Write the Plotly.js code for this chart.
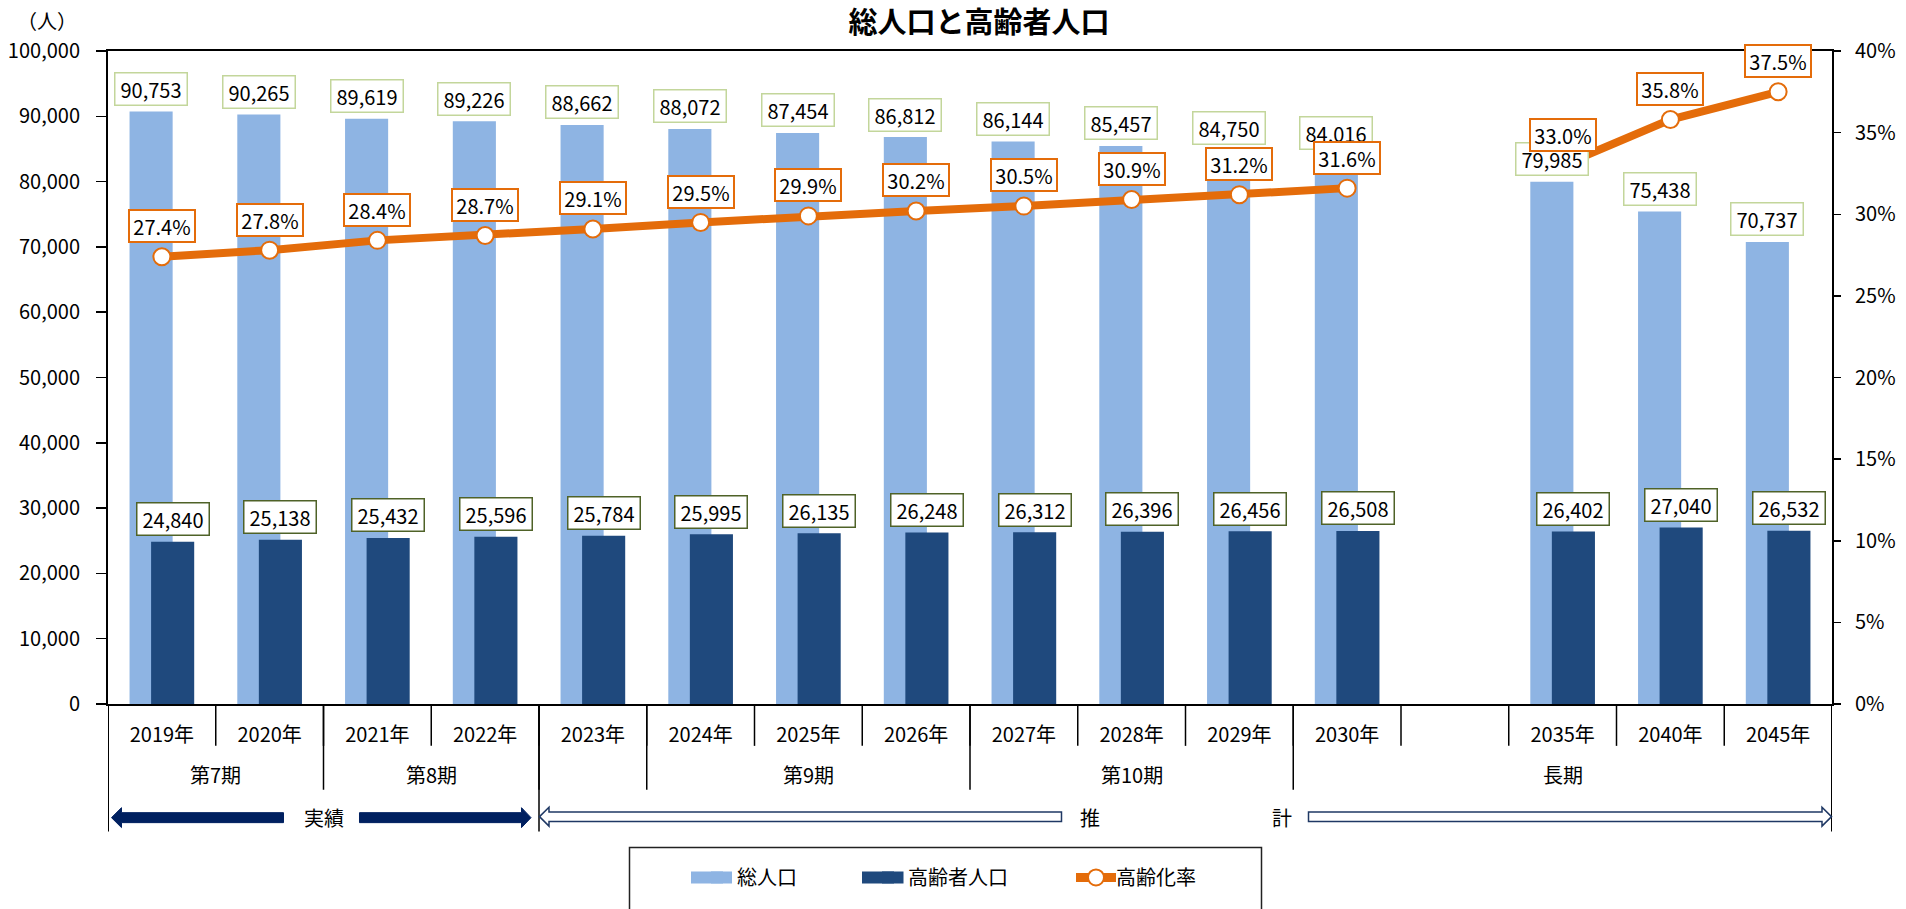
<!DOCTYPE html>
<html>
<head>
<meta charset="utf-8">
<script src="https://cdn.plot.ly/plotly-3.0.1.min.js"></script>
<style>html,body{margin:0;padding:0;background:#fff;}#chart{width:1906px;height:909px;}</style>
</head>
<body>
<div id="chart"></div>
<script>
// ---- data ----
const categories = ['2019年','2020年','2021年','2022年','2023年','2024年','2025年','2026年','2027年','2028年','2029年','2030年',' ','2035年','2040年','2045年'];
const totalPop   = [90753, 90265, 89619, 89226, 88662, 88072, 87454, 86812, 86144, 85457, 84750, 84016, null, 79985, 75438, 70737];
const elderlyPop = [24840, 25138, 25432, 25596, 25784, 25995, 26135, 26248, 26312, 26396, 26456, 26508, null, 26402, 27040, 26532];
const agingRate  = [27.4, 27.8, 28.4, 28.7, 29.1, 29.5, 29.9, 30.2, 30.5, 30.9, 31.2, 31.6, null, 33.0, 35.8, 37.5];
const periodLabels = ['第7期','第8期','','第9期','第10期','長期'];
const periodFirst  = [0, 2, 4, 5, 8, 11];
const periodLast   = [1, 3, 4, 7, 10, 15];
const seriesNames = ['総人口','高齢者人口','高齢化率'];
const titleText = '総人口と高齢者人口';
const unitText = '（人）';
const actualText = '実績';
const estimateTexts = ['推','計'];

// ---- styles ----
const FONT = '"Noto Sans CJK JP", "Noto Sans", sans-serif';
const C_LIGHT = '#8EB4E3', C_DARK = '#1F497D', C_ORANGE = '#E46C0A';
const C_NAVY = '#002060', C_HOLLOW = '#1F3864';
const W = 1906, H = 909;
const PL = 108, PR = 1832, PT = 51, PB = 706;
const px = v => (v - PL) / (PR - PL);
const py = v => (PB - v) / (PB - PT);
const nCat = categories.length;

const fmt = n => n.toLocaleString('en-US');
const baseFont = {family: FONT, size: 20, color: '#000'};

const traces = [
  {type: 'bar', name: seriesNames[0], x: categories, y: totalPop, marker: {color: C_LIGHT},
   width: 0.4, offset: -0.3, legend: 'legend', hoverinfo: 'skip'},
  {type: 'bar', name: seriesNames[1], x: categories, y: elderlyPop, marker: {color: C_DARK},
   width: 0.4, offset: -0.1, legend: 'legend2', hoverinfo: 'skip'},
  {type: 'scatter', mode: 'lines+markers', name: seriesNames[2], x: categories, y: agingRate, yaxis: 'y2',
   connectgaps: false, line: {color: C_ORANGE, width: 8},
   marker: {size: 17, color: '#fff', line: {color: C_ORANGE, width: 2}}, legend: 'legend3', hoverinfo: 'skip'}
];

const annotations = [];
// unit label
annotations.push({xref: 'paper', yref: 'paper', x: px(47), y: py(20), xanchor: 'center', yanchor: 'middle',
  text: unitText, showarrow: false, font: {family: FONT, size: 20, color: '#000'}});
// total labels
totalPop.forEach((v, i) => { if (v == null) return;
  annotations.push({xref: 'x', yref: 'y', x: i - 0.1, y: v, text: fmt(v), showarrow: false,
    xanchor: 'center', yanchor: 'middle', yshift: 22.6, bgcolor: '#fff', bordercolor: '#C3D69B',
    borderwidth: 1.5, borderpad: 1, width: 69, height: 29, font: baseFont});
});
// elderly labels
elderlyPop.forEach((v, i) => { if (v == null) return;
  annotations.push({xref: 'x', yref: 'y', x: i + 0.1, y: v, text: fmt(v), showarrow: false,
    xanchor: 'center', yanchor: 'middle', yshift: 22.6, bgcolor: '#fff', bordercolor: '#4F6228',
    borderwidth: 1.5, borderpad: 1, width: 69, height: 29, font: baseFont});
});
// rate labels
agingRate.forEach((v, i) => { if (v == null) return;
  annotations.push({xref: 'x', yref: 'y2', x: i, y: v, text: v.toFixed(1) + '%', showarrow: false,
    xanchor: 'center', yanchor: 'middle', yshift: 30.6, bgcolor: '#fff', bordercolor: C_ORANGE,
    borderwidth: 2, borderpad: 1, width: 62, height: 28, font: baseFont});
});
// period labels
periodLabels.forEach((t, k) => { if (!t) return;
  annotations.push({xref: 'x', yref: 'paper', x: (periodFirst[k] + periodLast[k]) / 2, y: py(777),
    text: t, showarrow: false, xanchor: 'center', yanchor: 'middle', font: baseFont});
});
// phase labels
annotations.push({xref: 'x', yref: 'paper', x: (periodFirst[0] + periodLast[1]) / 2, y: py(820), text: actualText,
  showarrow: false, xanchor: 'center', yanchor: 'middle', font: baseFont});
annotations.push({xref: 'paper', yref: 'paper', x: px(1090), y: py(820), text: estimateTexts[0],
  showarrow: false, xanchor: 'center', yanchor: 'middle', font: baseFont});
annotations.push({xref: 'paper', yref: 'paper', x: px(1282), y: py(820), text: estimateTexts[1],
  showarrow: false, xanchor: 'center', yanchor: 'middle', font: baseFont});

const shapes = [];
const vline = (xc, y0, y1, w) => shapes.push({type: 'line', xref: 'x', yref: 'paper', x0: xc, x1: xc,
  y0: py(y0), y1: py(y1), line: {color: '#000', width: w}});
// category boundaries (first row)
for (let i = 1; i < nCat; i++) vline(i - 0.5, PB, 748, 1.5);
// period boundaries
periodFirst.forEach((f, k) => { if (k > 0) vline(f - 0.5, PB, 792, 1.5); });
// phase boundaries (outer)
vline(-0.5, PB, 834, 2);
vline(periodFirst[2] - 0.5, PB, 834, 1.5);
vline(nCat - 0.5, PB, 834, 2);

// arrows (pixel geometry converted to paper)
const pathOf = pts => 'M' + pts.map(p => px(p[0]).toFixed(5) + ',' + py(p[1]).toFixed(5)).join('L') + 'Z';
const arrowLeft = (tip, base, end, yc, hs, hh) => [[tip, yc], [base, yc - hh], [base, yc - hs], [end, yc - hs], [end, yc + hs], [base, yc + hs], [base, yc + hh]];
const arrowRight = (start, base, tip, yc, hs, hh) => [[tip, yc], [base, yc - hh], [base, yc - hs], [start, yc - hs], [start, yc + hs], [base, yc + hs], [base, yc + hh]];
shapes.push({type: 'path', xref: 'paper', yref: 'paper', path: pathOf(arrowLeft(111.5, 121.5, 283.5, 820, 5, 10)),
  fillcolor: C_NAVY, line: {color: C_NAVY, width: 1}});
shapes.push({type: 'path', xref: 'paper', yref: 'paper', path: pathOf(arrowRight(359.5, 521.5, 531, 820, 5, 10)),
  fillcolor: C_NAVY, line: {color: C_NAVY, width: 1}});
shapes.push({type: 'path', xref: 'paper', yref: 'paper', path: pathOf(arrowLeft(539.5, 549, 1061.5, 819, 4.75, 9.5)),
  fillcolor: '#fff', line: {color: C_HOLLOW, width: 1.5}});
shapes.push({type: 'path', xref: 'paper', yref: 'paper', path: pathOf(arrowRight(1308.5, 1822, 1831.5, 819, 4.75, 9.5)),
  fillcolor: '#fff', line: {color: C_HOLLOW, width: 1.5}});
// legend frame
shapes.push({type: 'rect', xref: 'paper', yref: 'paper', x0: px(629.5), x1: px(1261.5), y0: py(850), y1: py(920),
  fillcolor: 'rgba(0,0,0,0)', line: {color: '#222', width: 1.5}});
// widened legend keys (drawn beneath the native legend symbols)
shapes.push({type: 'rect', xref: 'paper', yref: 'paper', x0: px(691), x1: px(732), y0: py(874), y1: py(886),
  fillcolor: C_LIGHT, line: {width: 0}});
shapes.push({type: 'rect', xref: 'paper', yref: 'paper', x0: px(862), x1: px(903.5), y0: py(874), y1: py(886),
  fillcolor: C_DARK, line: {width: 0}});
shapes.push({type: 'line', xref: 'paper', yref: 'paper', x0: px(1076), x1: px(1116), y0: py(880), y1: py(880),
  line: {color: C_ORANGE, width: 9}});

const legendBase = {orientation: 'h', xanchor: 'left', yanchor: 'middle', y: py(880),
  bgcolor: 'rgba(0,0,0,0)', borderwidth: 0, font: baseFont};

const layout = {
  width: W, height: H,
  margin: {l: PL, r: W - PR, t: PT, b: H - PB, pad: 0},
  paper_bgcolor: '#fff', plot_bgcolor: '#fff',
  title: {text: titleText, x: px(979), xref: 'paper', xanchor: 'center', y: 1 - 23 / H, yref: 'container', yanchor: 'middle',
    font: {family: FONT, size: 29, color: '#000', weight: 'bold'}},
  barmode: 'overlay',
  showlegend: true,
  legend: Object.assign({}, legendBase, {x: px(697)}),
  legend2: Object.assign({}, legendBase, {x: px(868)}),
  legend3: Object.assign({}, legendBase, {x: px(1076)}),
  xaxis: {type: 'category', categoryorder: 'array', categoryarray: categories, range: [-0.5, nCat - 0.5],
    showline: true, linecolor: '#000', linewidth: 2, mirror: true, ticks: '', showgrid: false, zeroline: false,
    tickfont: baseFont, ticklabelstandoff: 12, automargin: false, fixedrange: true},
  yaxis: {range: [0, 100000], dtick: 10000, tickformat: ',d', showline: true, linecolor: '#000', linewidth: 2,
    ticks: 'outside', ticklen: 10, tickwidth: 1.5, tickcolor: '#000', showgrid: false, zeroline: false,
    tickfont: baseFont, ticklabelstandoff: 12, automargin: false, fixedrange: true},
  yaxis2: {range: [0, 40], dtick: 5, ticksuffix: '%', overlaying: 'y', side: 'right', showline: true,
    linecolor: '#000', linewidth: 2, ticks: 'outside', ticklen: 7, tickwidth: 1.5, tickcolor: '#000',
    showgrid: false, zeroline: false, tickfont: baseFont, ticklabelstandoff: 10, automargin: false, fixedrange: true},
  annotations: annotations,
  shapes: shapes
};

Plotly.newPlot('chart', traces, layout, {displayModeBar: false, staticPlot: true});
</script>
</body>
</html>
